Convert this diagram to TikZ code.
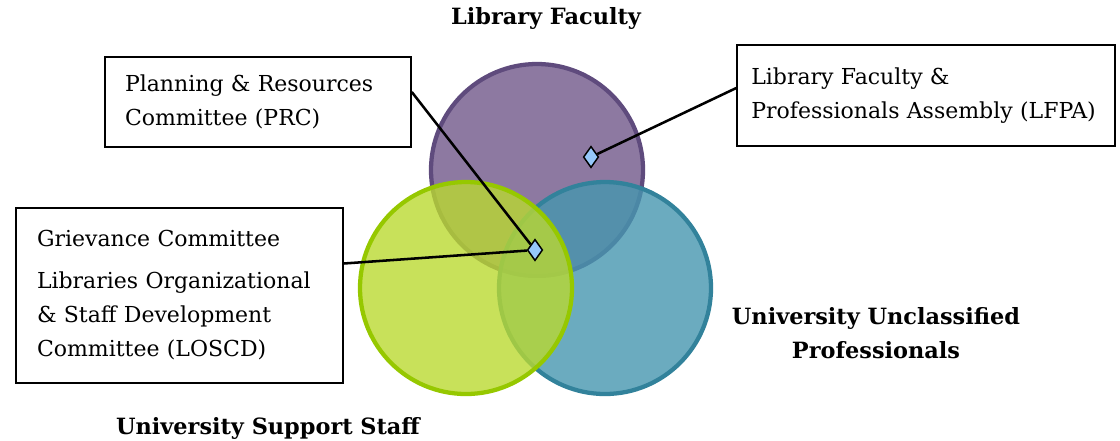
\documentclass[tikz,border=0pt]{standalone}
\usepackage{fontspec}
\setmainfont{DejaVu Serif}
\usetikzlibrary{shapes.geometric}
\definecolor{facultyfill}{RGB}{112,88,138}
\definecolor{facultyline}{RGB}{95,75,125}
\definecolor{staffill}{RGB}{186,217,49}
\definecolor{staffline}{RGB}{150,200,0}
\definecolor{proffill}{RGB}{70,150,175}
\definecolor{profline}{RGB}{50,130,155}
\definecolor{pinblue}{RGB}{150,200,250}

\begin{document}
\begin{tikzpicture}[x=0.75pt, y=-0.75pt,
                    group/.style = {circle, line width=3.2pt, fill opacity=0.8, minimum size=159pt, inner sep=0pt},
                    box/.style = {draw, line width=1.2pt, align=left, font=\fontsize{16.5}{25.5}\selectfont},
                    title/.style = {font=\fontsize{16.8}{25.5}\selectfont\bfseries, align=center},
                    marker/.style = {draw, diamond, fill=pinblue, line width=1.1pt, minimum width=11.5pt, minimum height=16pt, inner sep=0pt},
                    link/.style = {line width=1.9pt}]
                  \useasboundingbox (0,0) rectangle (1120,440);
                  \node[group, draw=facultyline, fill=facultyfill] (faculty) at (537,170) {};
                  \node[group, draw=profline, fill=proffill] (prof) at (605,288) {};
                  \node[group, draw=staffline, fill=staffill] (staff) at (466,288) {};
                  \node[title] (lfname) at (546,18) {Library Faculty};
                  \node[title] (upname) at (876,333) {University Unclassified\\Professionals};
                  \node[title] (ssname) at (268,428) {University Support Staff};
                  \node[box, text width=199.5pt, inner xsep=15pt, minimum height=67.5pt] (prc) at (258,102)
                       {Planning \& Resources\\Committee (PRC)};
                  \node[box, text width=262pt, inner xsep=10.75pt, minimum height=75.75pt] (lfpa) at (926,95.5)
                       {Library Faculty \&\\Professionals Assembly (LFPA)};
                  \node[box, text width=213.75pt, inner xsep=15.75pt, minimum height=131pt] (losc) at (179.5,295.5)
                       {Grievance Committee\\[6pt]Libraries Organizational\\\& Staff Development\\Committee (LOSCD)};
                  \node[marker] (fpin) at (591,157) {};
                  \node[marker] (cpin) at (535,250) {};
                  \draw[link] ([yshift=5.6pt]lfpa.west) -- (fpin);
                  \draw[link] ([yshift=7.5pt]prc.east) -- (cpin);
                  \draw[link] ([yshift=24pt]losc.east) -- (cpin);
              \end{tikzpicture}
\end{document}
